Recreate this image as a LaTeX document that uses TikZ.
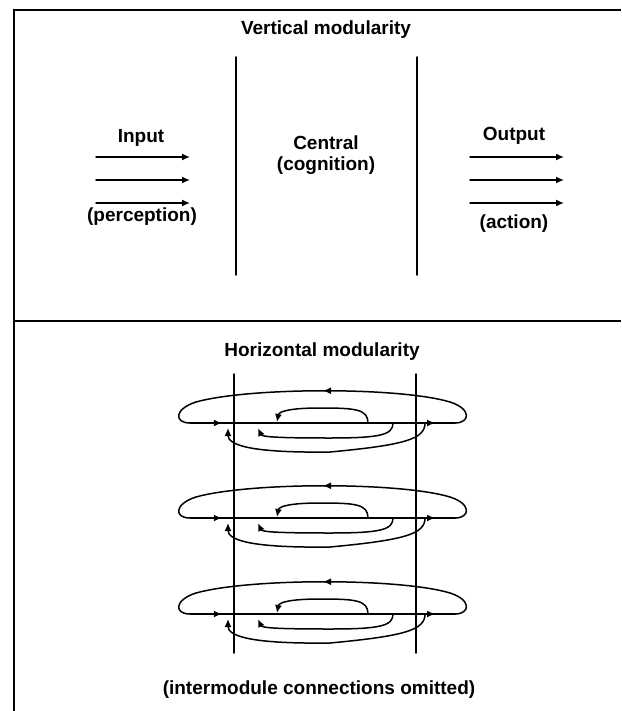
\documentclass[tikz,border=0pt]{standalone}
\usepackage{fontspec}
\setmainfont{Liberation Sans}
\usetikzlibrary{arrows.meta,decorations.markings}
\begin{document}
\begin{tikzpicture}[x=1pt,y=-1pt,
  lbl/.style={font=\fontsize{19}{22}\selectfont\bfseries, inner sep=0pt, align=center},
  wire/.style={line width=1.5pt, line cap=round},
  tip/.style={-{Latex[length=8pt,width=7pt]}},
  frameline/.style={line width=2pt},
  midarrow/.style={postaction={decorate},
    decoration={markings,mark=at position #1 with {\arrow{Latex[length=8pt,width=7pt]}}}},
  basearrows/.style={postaction={decorate},
    decoration={markings,
      mark=at position 0.12 with {\arrow{Latex[length=8pt,width=7pt]}},
      mark=at position 0.925 with {\arrow{Latex[length=8pt,width=7pt]}}}}
]
\useasboundingbox (0,0) rectangle (621,711);

% frame and divider
\draw[frameline] (14,711) -- (14,10) -- (621,10);
\draw[frameline] (14,321) -- (621,321);

% ---------- vertical modularity ----------
\node[lbl] (vtitle) at (326,30) {Vertical modularity};
\draw[wire] (236,57) -- (236,275);
\draw[wire] (417,57) -- (417,275);

\node[lbl] (inp) at (141,138) {Input};
\node[lbl] (perc) at (142,217) {(perception)};
\foreach \yy in {157,180,203}
  \draw[wire,tip] (96,\yy) -- (190,\yy);

\node[lbl] (central) at (326,143) {Central};
\node[lbl] (cogn) at (326,166) {(cognition)};

\node[lbl] (outp) at (514,136) {Output};
\node[lbl] (act) at (514,224) {(action)};
\foreach \yy in {157,180,203}
  \draw[wire,tip] (470,\yy) -- (564,\yy);

% ---------- horizontal modularity ----------
\node[lbl] (htitle) at (322,352) {Horizontal modularity};
\draw[wire] (234,374) -- (234,653);
\draw[wire] (416,374) -- (416,653);

\foreach \base in {423,518,614}{
  \begin{scope}[shift={(0,\base)}]
    % outer loop: flat bottom, arched top
    \draw[wire,basearrows] (190,0) -- (455,0);
    \draw[wire] (455,0) .. controls (470,0) and (472,-14) .. (450,-21);
    \draw[wire,midarrow=0.5] (450,-21) .. controls (400,-36) and (250,-36) .. (196,-21);
    \draw[wire] (196,-21) .. controls (174,-14) and (174,0) .. (190,0);
    % upper inner loop
    \draw[wire,tip] (368,0) .. controls (368,-14) and (355,-15) .. (320,-15)
      .. controls (292,-15) and (279,-12) .. (277,-1);
    % lower inner loop
    \draw[wire,tip] (393,0) .. controls (393,12) and (380,15) .. (330,15)
      .. controls (280,15) and (262,14) .. (258,5);
    % lower outer loop
    \draw[wire,tip] (425,0) .. controls (425,16) and (405,22) .. (330,29)
      .. controls (250,30) and (228,22) .. (228,5);
  \end{scope}
}

\node[lbl] (note) at (319,690) {(intermodule connections omitted)};
\end{tikzpicture}
\end{document}
